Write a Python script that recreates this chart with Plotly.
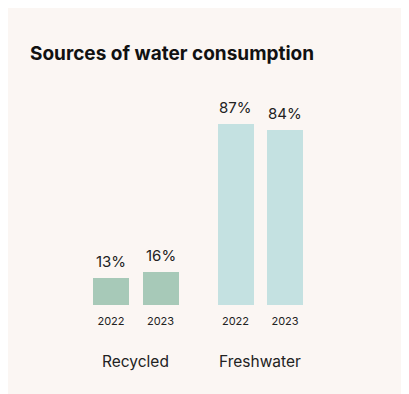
import plotly.graph_objects as go

# ---- data ----
groups = ["Recycled", "Freshwater"]
years = ["2022", "2023"]
recycled = [13, 16]
freshwater = [87, 84]
title = "Sources of water consumption"

values = [recycled, freshwater]
colors = ["#A7C9B8", "#C4E1E1"]

# ---- layout constants (figure pixels; x axis mapped 1:1 to pixels) ----
W, H = 401, 386
BOTTOM = 89
plot_h = H - BOTTOM
px_per_pct = 2.08
group_origin = 103
group_step = 124.5
bar_step = 49.5
bar_w = 36
FONT = "Inter, sans-serif"

fig = go.Figure()
tickvals, ticktext = [], []
group_centers = []
for gi, (g, vals) in enumerate(zip(groups, values)):
    xs = [group_origin + gi * group_step + yi * bar_step for yi in range(len(years))]
    tickvals += xs
    ticktext += years
    group_centers.append(sum(xs) / len(xs))
    fig.add_trace(go.Bar(
        x=xs, y=vals, width=bar_w,
        marker=dict(color=colors[gi], line=dict(width=0)),
        showlegend=False, hoverinfo="skip",
    ))
    for x, v in zip(xs, vals):
        fig.add_annotation(text=f"{v}%", x=x, y=v, xref="x", yref="y",
                           xanchor="center", yanchor="bottom", yshift=5,
                           showarrow=False,
                           font=dict(family=FONT, size=15, color="#222222"))

fig.add_annotation(text=f"<b>{title}</b>", xref="paper", yref="paper",
                   x=20 / W, y=(plot_h - 46) / plot_h, xanchor="left", yanchor="middle",
                   showarrow=False, font=dict(family=FONT, size=19, color="#111111"))

for g, cx in zip(groups, group_centers):
    fig.add_annotation(text=g, xref="x", yref="paper", x=cx, y=(plot_h - 353) / plot_h,
                       xanchor="center", yanchor="middle", showarrow=False,
                       font=dict(family=FONT, size=15.5, color="#222222"))

fig.update_layout(
    width=W, height=H,
    margin=dict(l=0, r=0, t=0, b=BOTTOM, pad=0),
    paper_bgcolor="#FBF6F3", plot_bgcolor="rgba(0,0,0,0)",
    bargap=0,
    xaxis=dict(range=[0, W], tickvals=tickvals, ticktext=ticktext,
               ticks="outside", ticklen=6, tickcolor="rgba(0,0,0,0)",
               showgrid=False, zeroline=False, showline=False,
               tickfont=dict(family=FONT, size=11, color="#222222"),
               fixedrange=True),
    yaxis=dict(range=[0, plot_h / px_per_pct], visible=False, fixedrange=True),
)

fig.write_html("out.html")
